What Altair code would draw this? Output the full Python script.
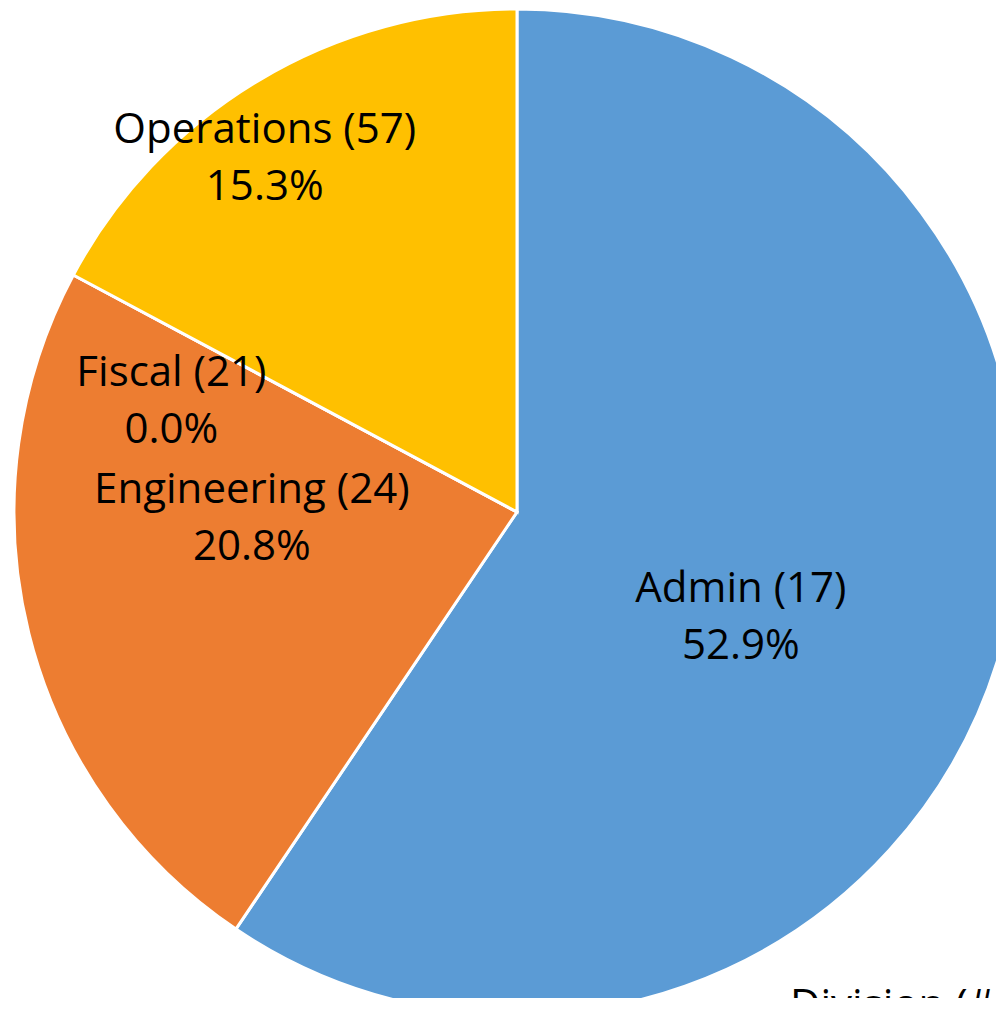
import altair as alt
import pandas as pd

categories = ["Admin", "Engineering", "Fiscal", "Operations"]
counts = [17, 24, 21, 57]
percents = [52.9, 20.8, 0.0, 15.3]
colors = ["#5B9BD5", "#ED7D31", "#A5A5A5", "#FFC000"]

df = pd.DataFrame({
    "category": categories,
    "count": counts,
    "pct": percents,
    "idx": list(range(len(categories))),
})
df["label"] = [f"{c} ({n})\n{p:.1f}%" for c, n, p in zip(categories, counts, percents)]

W, H = 988, 990
CX, CY, R = 509, 504, 503
FONT = "Open Sans"
FS = 42

base = alt.Chart(df).encode(
    theta=alt.Theta("pct:Q", stack=True),
    order=alt.Order("idx:Q"),
)

arcs = base.mark_arc(stroke="white", strokeWidth=3).encode(
    x=alt.value(CX), y=alt.value(CY), radius=alt.value(R),
    color=alt.Color("category:N", scale=alt.Scale(domain=categories, range=colors), legend=None),
)

offsets = {
    "Admin": (-63, -11),
    "Engineering": (26, -94),
    "Fiscal": (-81, 2),
    "Operations": (-98, -125),
}

layers = [arcs]
for c in categories:
    dx, dy = offsets[c]
    layers.append(
        base.mark_text(
            radius=300, dx=dx, dy=dy, font=FONT, fontSize=FS, color="black",
            align="center", baseline="middle", lineBreak="\n", lineHeight=57,
        ).encode(
            x=alt.value(CX), y=alt.value(CY),
            text=alt.condition(f"datum.category == '{c}'", "label:N", alt.value("")),
        )
    )

title_df = pd.DataFrame({"t": ["Division (# of Employees)"]})
title = alt.Chart(title_df).mark_text(
    font=FONT, fontSize=FS, align="left", baseline="alphabetic", color="black"
).encode(x=alt.value(782), y=alt.value(1011), text="t:N")
layers.append(title)

chart = alt.layer(*layers).properties(
    width=W, height=H, padding=0, autosize=alt.AutoSizeParams(type="none")
).configure_view(stroke=None)

chart.save("out.html", embed_options={"renderer": "svg", "actions": False})
